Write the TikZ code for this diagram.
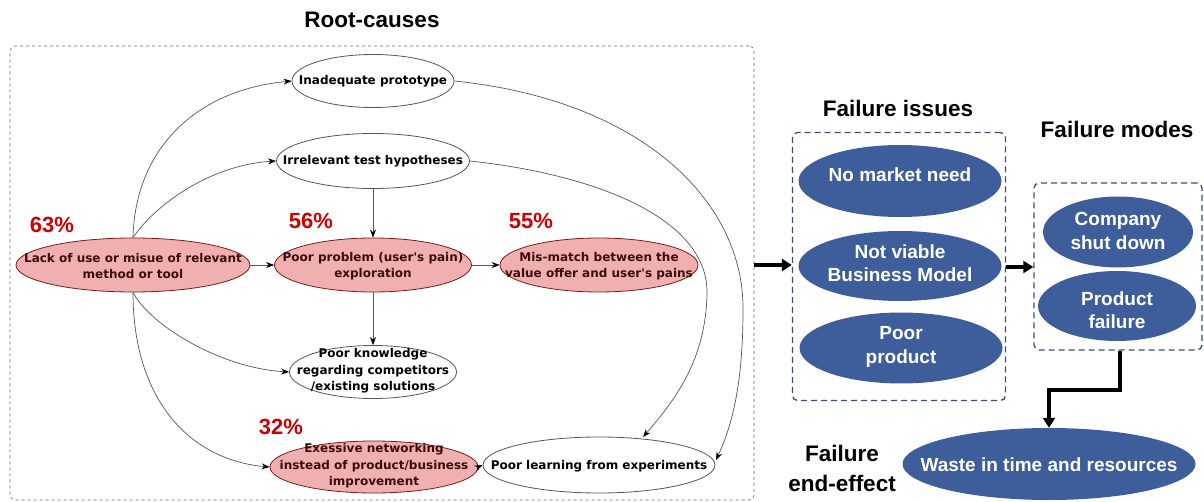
\documentclass[tikz,border=0pt]{standalone}
\usepackage{fontspec}
\setmainfont{Liberation Sans}
\newfontfamily\nodefont{DejaVu Sans}
\usetikzlibrary{shapes.geometric,arrows.meta}
\definecolor{pinkfill}{HTML}{F0B0B0}
\definecolor{pinkdraw}{HTML}{7A1A1A}
\definecolor{pinktext}{HTML}{3C0C0C}
\definecolor{blueell}{HTML}{3E5D9B}
\definecolor{boxblue}{HTML}{3B4E6E}
\definecolor{pctred}{HTML}{D00000}
\definecolor{edgegray}{HTML}{555555}
\tikzset{
  rc/.style={ellipse, draw=edgegray, line width=0.8pt, inner sep=0pt, fill=white},
  rcpink/.style={rc, fill=pinkfill, draw=pinkdraw},
  rctext/.style={font=\nodefont\bfseries\fontsize{12}{16.5}\selectfont, align=center, inner sep=0pt, text=black},
  fi/.style={ellipse, fill=blueell, inner sep=0pt},
  fitext/.style={text=white, font=\bfseries\fontsize{19}{23.5}\selectfont, align=center, inner sep=0pt},
  edge/.style={draw=edgegray, line width=0.7pt, -{Stealth[length=8pt,width=6pt,black]}},
  bigarrow/.style={line width=3.6pt, -{Triangle[length=10pt,width=12pt]}},
  ttl/.style={font=\bfseries\fontsize{22.5}{30}\selectfont, align=center, inner sep=0pt},
  pct/.style={text=pctred, font=\bfseries\fontsize{22}{24}\selectfont, inner sep=0pt},
  dbox/.style={draw, dashed, rounded corners=5pt, inner sep=0pt}
}
\begin{document}
\begin{tikzpicture}[x=1pt,y=-1pt]
\useasboundingbox (0,0) rectangle (1204,502);

% titles
\node[ttl] (t1) at (372,20) {Root-causes};
\node[ttl] (t2) at (898,108) {Failure issues};
\node[ttl] (t3) at (1117,129) {Failure modes};
\node[ttl] (t4) at (842,468) {Failure\\end-effect};

% boxes
\node[dbox, draw=gray!80!black, line width=0.6pt, minimum width=744pt, minimum height=454pt] (rootbox) at (382,273) {};
\node[dbox, draw=boxblue, line width=1.3pt, dash pattern=on 6pt off 4pt, minimum width=213pt, minimum height=268pt] (box1) at (899,266.5) {};
\node[dbox, draw=boxblue, line width=1.3pt, dash pattern=on 6pt off 4pt, minimum width=168pt, minimum height=167pt] (box2) at (1118,266.5) {};

% root-cause ellipses
\node[rcpink, minimum width=234pt, minimum height=54pt] (lack) at (133,265) {};
\node[rctext, text=pinktext] (lackt) at (133,266) {Lack of use or misue of relevant\\method or tool};
\node[rcpink, minimum width=197pt, minimum height=54pt] (poor) at (373,265) {};
\node[rctext, text=pinktext] (poort) at (373,266) {Poor problem (user's pain)\\exploration};
\node[rcpink, minimum width=198pt, minimum height=54pt] (mis) at (599,265) {};
\node[rctext, text=pinktext] (mist) at (599,266) {Mis-match between the\\value offer and user's pains};
\node[rc, minimum width=162pt, minimum height=53pt] (proto) at (373,81) {};
\node[rctext] (protot) at (373,81) {Inadequate prototype};
\node[rc, minimum width=193pt, minimum height=55pt] (irrel) at (373,161) {};
\node[rctext] (irrelt) at (373,161) {Irrelevant test hypotheses};
\node[rc, minimum width=167pt, minimum height=53pt] (know) at (373,372) {};
\node[rctext] (knowt) at (373,371) {Poor knowledge\\regarding competitors\\/existing solutions};
\node[rcpink, minimum width=208pt, minimum height=52pt] (exc) at (374,467) {};
\node[rctext, text=pinktext] (exct) at (374,466) {Exessive networking\\instead of product/business\\improvement};
\node[rc, minimum width=232pt, minimum height=56pt] (learn) at (599,465) {};
\node[rctext] (learnt) at (599,466) {Poor learning from experiments};

% percentages
\node[pct] (p63) at (52,225) {63\%};
\node[pct] (p56) at (311,221) {56\%};
\node[pct] (p55) at (531,221) {55\%};
\node[pct] (p32) at (281,427) {32\%};

% root-cause connectors
\draw[edge] (lack.north) .. controls (135,150) and (195,90) .. (proto.west);
\draw[edge] (lack.north) .. controls (155,205) and (210,165) .. (irrel.west);
\draw[edge] (lack.east) -- (poor.west);
\draw[edge] (lack.south) .. controls (150,325) and (220,368) .. (know.west);
\draw[edge] (lack.south) .. controls (133,400) and (190,460) .. (exc.west);
\draw[edge] (irrel.south) -- (poor.north);
\draw[edge] (poor.south) -- (know.north);
\draw[edge] (poor.east) -- (mis.west);
\draw[edge] (exc.east) -- (learn.west);
\coordinate (c1) at (707,293);
\coordinate (c2) at (743,310);
\draw[edge] (irrel.east) .. controls (600,175) and (708,220) .. (c1) .. controls (706,360) and (675,400) .. (643,437);
\draw[edge] (proto.east) .. controls (640,100) and (744,200) .. (c2) .. controls (743,390) and (730,430) .. (716,460);

% failure issues
\node[fi, minimum width=203pt, minimum height=72pt] (nmn) at (900,181) {};
\node[fitext] (nmnt) at (900,175) {No market need};
\node[fi, minimum width=203pt, minimum height=70pt] (nvb) at (900,266) {};
\node[fitext] (nvbt) at (900,263) {Not viable\\Business Model};
\node[fi, minimum width=203pt, minimum height=71pt] (pp) at (901,348) {};
\node[fitext] (ppt) at (901,347) {Poor\\product};

% failure modes
\node[fi, minimum width=150pt, minimum height=71pt] (csd) at (1118,232) {};
\node[fitext] (csdt) at (1118,231) {Company\\shut down};
\node[fi, minimum width=158pt, minimum height=70pt] (pf) at (1117,306) {};
\node[fitext] (pft) at (1117,310) {Product\\failure};

% end effect
\node[fi, minimum width=293pt, minimum height=72pt] (waste) at (1049,464) {};
\node[fitext] (wastet) at (1049,465) {Waste in time and resources};

% thick arrows
\draw[bigarrow] (rootbox.east |- 0,265) -- (box1.west |- 0,265);
\draw[bigarrow] (box1.east |- 0,267) -- (box2.west |- 0,267);
\draw[bigarrow] (box2.south -| 1120,0) -- (1120,390) -| (waste.north);
\end{tikzpicture}
\end{document}
